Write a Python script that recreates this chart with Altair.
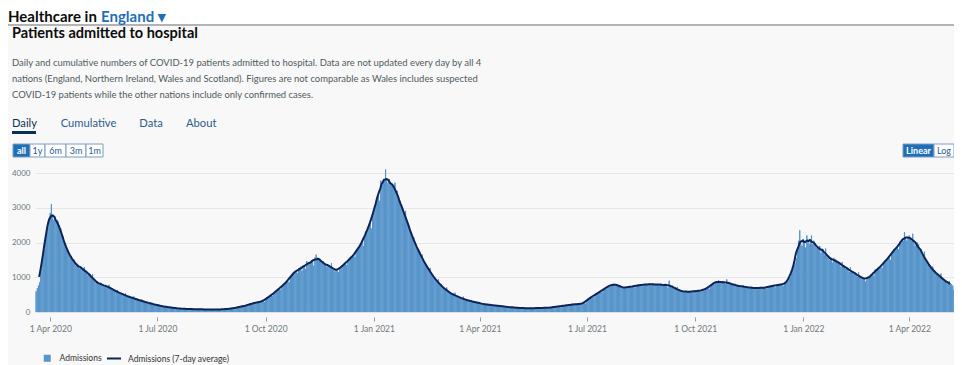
import altair as alt
import pandas as pd

START = "2020-03-19"

# Daily COVID-19 hospital admissions in England
admissions_2020 = [
    590, 680, 760, 850, 1150, 1400, 1650,
    1800, 2050, 2300, 2450, 2700, 2850, 3100,
    2800, 2650, 2750, 2600, 2650, 2600, 2500,
    2400, 2200, 2180, 2000, 1980, 1820, 1780,
    1700, 1620, 1600, 1480, 1520, 1420, 1380,
    1360, 1330, 1250, 1310, 1240, 1260, 1290,
    1180, 1150, 1050, 1120, 1080, 1010, 1090,
    940, 900, 820, 880, 850, 790, 840,
    800, 780, 720, 770, 750, 700, 780,
    700, 680, 620, 650, 640, 590, 630,
    560, 550, 510, 540, 520, 480, 535,
    460, 450, 420, 440, 420, 390, 445,
    380, 370, 340, 360, 350, 320, 358,
    300, 295, 270, 285, 280, 255, 282,
    235, 228, 210, 222, 215, 195, 221,
    175, 170, 155, 168, 160, 148, 165,
    140, 136, 124, 133, 128, 118, 131,
    108, 104, 96, 102, 98, 90, 102,
    95, 92, 84, 90, 86, 78, 91,
    86, 83, 76, 82, 78, 71, 84,
    80, 78, 72, 77, 73, 67, 78,
    77, 75, 69, 74, 70, 64, 75,
    80, 78, 72, 77, 73, 67, 78,
    96, 93, 86, 92, 88, 81, 94,
    135, 132, 122, 130, 126, 116, 142,
    185, 185, 170, 180, 178, 165, 197,
    255, 260, 240, 250, 248, 235, 276,
    310, 318, 290, 305, 300, 290, 343,
    420, 440, 430, 460, 470, 450, 529,
    600, 620, 610, 650, 660, 640, 749,
    800, 830, 820, 860, 880, 850, 1008,
    1080, 1120, 1100, 1150, 1170, 1120, 1261,
    1250, 1300, 1180, 1330, 1340, 1240, 1467,
    1380, 1420, 1400, 1450, 1480, 1330, 1564,
    1650, 1560, 1480, 1540, 1510, 1420, 1452,
    1400, 1380, 1300, 1360, 1350, 1280, 1401,
    1250, 1240, 1170, 1220, 1200, 1140, 1278,
    1300, 1340, 1330, 1380, 1400, 1350, 1490,
    1520, 1560, 1550, 1610, 1650, 1580, 1723,
    1800, 1850, 1900, 1950, 2000, 1900, 2152,
    2250, 2350, 2400, 2500, 2600, 2400, 2762,
    2900,
]

admissions_2021 = [
    3050, 3150, 3300, 3450, 3200, 3777,
    3650, 3750, 3800, 4100, 3850, 3700, 3820,
    3750, 3700, 3650, 3550, 3720, 3500, 3484,
    3300, 3200, 3100, 3000, 2950, 2850, 2908,
    2650, 2550, 2450, 2350, 2300, 2200, 2146,
    2000, 1900, 1850, 1780, 1750, 1650, 1656,
    1500, 1430, 1380, 1330, 1290, 1230, 1262,
    1100, 1050, 1000, 970, 940, 880, 941,
    800, 770, 730, 710, 690, 650, 704,
    590, 570, 540, 530, 510, 480, 553,
    460, 450, 420, 420, 410, 380, 442,
    360, 355, 335, 340, 330, 310, 343,
    300, 295, 275, 285, 275, 255, 282,
    240, 238, 222, 230, 222, 205, 232,
    210, 208, 192, 200, 195, 180, 201,
    180, 178, 165, 175, 170, 155, 174,
    150, 150, 138, 146, 142, 130, 145,
    128, 126, 116, 124, 120, 110, 123,
    116, 115, 106, 112, 110, 100, 111,
    116, 114, 106, 112, 110, 100, 112,
    124, 122, 112, 120, 116, 106, 119,
    135, 132, 122, 130, 126, 116, 135,
    168, 165, 152, 162, 158, 145, 170,
    200, 198, 182, 194, 188, 172, 203,
    232, 230, 212, 225, 220, 200, 235,
    240, 245, 235, 250, 260, 240, 315,
    380, 400, 410, 430, 440, 420, 488,
    530, 550, 560, 580, 590, 560, 641,
    680, 700, 710, 740, 750, 720, 782,
    800, 810, 790, 790, 780, 740, 778,
    730, 720, 690, 700, 700, 670, 732,
    740, 745, 720, 735, 740, 700, 758,
    790, 785, 760, 775, 780, 740, 802,
    810, 805, 780, 800, 800, 760, 824,
    810, 800, 775, 790, 800, 760, 816,
    790, 785, 760, 775, 780, 700, 898,
    760, 740, 710, 700, 690, 660, 717,
    640, 620, 595, 600, 590, 560, 595,
    600, 598, 575, 590, 585, 550, 604,
    620, 615, 595, 610, 605, 575, 643,
    650, 660, 655, 680, 690, 660, 758,
    800, 820, 830, 850, 870, 840, 919,
    860, 870, 840, 850, 860, 810, 937,
    840, 830, 800, 810, 800, 770, 813,
    770, 765, 740, 750, 745, 710, 770,
    730, 725, 700, 715, 710, 670, 727,
    700, 700, 675, 690, 685, 650, 716,
    715, 710, 685, 700, 700, 660, 730,
    750, 760, 735, 750, 745, 700, 782,
    800, 805, 780, 795, 790, 750, 831,
    820, 850, 880, 950, 1000, 1100, 1250,
    1350, 1400, 1550, 1750, 2050, 2350, 1950,
    1900, 2100,
]

admissions_2022 = [
    2050, 1850, 2200, 2050, 1950,
    2100, 2200, 1950, 2050, 1980, 1850, 1890,
    1850, 1900, 1700, 1820, 1800, 1650, 1824,
    1650, 1620, 1500, 1560, 1550, 1420, 1557,
    1520, 1500, 1400, 1450, 1420, 1300, 1434,
    1350, 1330, 1230, 1280, 1260, 1150, 1283,
    1190, 1170, 1080, 1130, 1110, 1010, 1136,
    1030, 1010, 940, 990, 970, 880, 998,
    980, 1000, 1000, 1060, 1080, 1040, 1225,
    1200, 1240, 1230, 1280, 1310, 1260, 1419,
    1450, 1500, 1490, 1540, 1580, 1500, 1706,
    1750, 1800, 1780, 1840, 1880, 1800, 1974,
    2000, 2100, 2050, 2300, 2150, 2050, 2120,
    2200, 2150, 2050, 2250, 2050, 1900, 1967,
    2000, 1950, 1800, 1800, 1700, 1600, 1736,
    1500, 1480, 1350, 1380, 1330, 1250, 1307,
    1180, 1160, 1080, 1110, 1080, 1000, 1104,
    960, 950, 880, 900, 880, 820, 889,
    820, 800, 760, 640,
]

tick_dates = ["2020-04-01", "2020-07-01", "2020-10-01", "2021-01-01", "2021-04-01",
              "2021-07-01", "2021-10-01", "2022-01-01", "2022-04-01"]
y_ticks = [0, 1000, 2000, 3000, 4000]

description = [
    "Daily and cumulative numbers of COVID-19 patients admitted to hospital. Data are not updated every day by all 4",
    "nations (England, Northern Ireland, Wales and Scotland). Figures are not comparable as Wales includes suspected",
    "COVID-19 patients while the other nations include only confirmed cases.",
]
tabs = ["Daily", "Cumulative", "Data", "About"]
range_buttons = ["all", "1y", "6m", "3m", "1m"]
scale_buttons = ["Linear", "Log"]

values = admissions_2020 + admissions_2021 + admissions_2022
dates = pd.date_range(START, periods=len(values), freq="D")
df = pd.DataFrame({"date": dates.strftime("%Y-%m-%d"), "admissions": values})
end = dates[-1] + pd.Timedelta(days=1)


def dt(ts):
    ts = pd.Timestamp(ts)
    return alt.DateTime(year=ts.year, month=ts.month, date=ts.day, utc=True)


FONT = "Lato"
BAR = "#5694ca"
NAVY = "#0e2457"
W, H = 919, 139

xscale = alt.Scale(type="utc", domain=[dt(START), dt(end)])
xaxis = alt.Axis(values=[dt(d) for d in tick_dates], format="%-d %b %Y", grid=False,
                 domain=False, ticks=True, tickSize=4, tickColor="#9a9a9a", offset=5,
                 labelPadding=3, labelFontSize=8.5, labelColor="#6f777b", labelFont=FONT,
                 labelFlush=False, labelOverlap=False, title=None)
yscale = alt.Scale(domain=[0, 4000], nice=False)
yaxis = alt.Axis(values=y_ticks, tickCount=5, format="d", grid=True, gridColor="#e6e6e6",
                 domain=False, ticks=False, tickSize=0, labelPadding=5, labelFontSize=8,
                 labelColor="#6f777b", labelFont=FONT, labelOverlap=False,
                 labelFlush=False, title=None)

base = alt.Chart(df)

bars = base.transform_calculate(series='"Admissions"').mark_bar(
    stroke=BAR, strokeWidth=1, opacity=1
).encode(
    x=alt.X("utcyearmonthdate(date):T", scale=xscale, axis=xaxis),
    y=alt.Y("admissions:Q", scale=yscale, axis=yaxis),
    color=alt.Color("series:N", scale=alt.Scale(domain=["Admissions"], range=[BAR]),
                    legend=alt.Legend(orient="none", legendX=8, legendY=181, title=None,
                                      symbolType="square", symbolSize=49,
                                      symbolStrokeWidth=0, symbolOpacity=1,
                                      labelFontSize=8.5, labelFont=FONT,
                                      labelColor="#333333", labelOffset=8, padding=0)),
)

line = base.transform_window(
    window=[alt.WindowFieldDef(op="mean", field="admissions", **{"as": "avg"}),
            alt.WindowFieldDef(op="count", **{"as": "n"})],
    frame=[-3, 3],
    sort=[alt.SortField("date")],
).transform_filter("datum.n == 7").transform_calculate(
    series2='"Admissions (7-day average)"'
).mark_line(strokeWidth=2).encode(
    x=alt.X("utcyearmonthdate(date):T", bandPosition=0.5, scale=xscale, axis=xaxis),
    y=alt.Y("avg:Q", scale=yscale, axis=yaxis),
    stroke=alt.Stroke("series2:N",
                      scale=alt.Scale(domain=["Admissions (7-day average)"], range=[NAVY]),
                      legend=alt.Legend(orient="none", legendX=71, legendY=177.5, title=None,
                                        symbolType="stroke", symbolSize=196,
                                        symbolStrokeWidth=2, labelFontSize=8.5,
                                        labelFont=FONT, labelColor="#333333",
                                        labelOffset=6, padding=0)),
)

dummy = pd.DataFrame({"k": [0]})


def deco_text(s, x, y, size, color, weight="normal", align="left", baseline="alphabetic"):
    return alt.Chart(dummy).mark_text(
        text=s, fontSize=size, color=color, fontWeight=weight, align=align,
        baseline=baseline, font=FONT
    ).encode(x=alt.value(x), y=alt.value(y))


def deco_rect(x, x2, y, y2, fill, stroke=None):
    kw = {"fill": fill}
    if stroke:
        kw.update(stroke=stroke, strokeWidth=1)
    return alt.Chart(dummy).mark_rect(**kw).encode(
        x=alt.value(x), x2=alt.value(x2), y=alt.value(y), y2=alt.value(y2))


layers = []
# header band
layers.append(deco_rect(-27, W, -165, -148, "#ffffff"))
layers.append(alt.Chart(dummy).mark_rule(color="#b1b4b6", strokeWidth=2).encode(
    x=alt.value(-27), x2=alt.value(W), y=alt.value(-148)))
layers.append(bars)
layers.append(line)

layers.append(deco_text("Healthcare in", -27, -151.5, 15, "#0b0c0c", "bold"))
layers.append(deco_text("England \u25be", 66, -151.5, 15, "#1d70b8", "bold"))
layers.append(deco_text("Patients admitted to hospital", -23, -134.7, 14.5, "#0b0c0c", "bold"))
for i, s in enumerate(description):
    layers.append(deco_text(s, -23, [-107, -91.2, -75.4][i], 9.45, "#505a5f"))

tab_x = [-23, 25.7, 104.3, 151]
for i, s in enumerate(tabs):
    layers.append(deco_text(s, tab_x[i], -46.3, 11.2, "#0b2f5b" if i == 0 else "#2a5d8f"))
layers.append(deco_rect(-23, 1, -42, -39, "#0b2f5b"))

rb_edges = [-22, -5, 10, 31, 51, 68]
for i, s in enumerate(range_buttons):
    x0, x1 = rb_edges[i], rb_edges[i + 1]
    on = i == 0
    layers.append(deco_rect(x0, x1, -29, -16, "#1d70b8" if on else "#ffffff", "#7d9cbc"))
    layers.append(deco_text(s, (x0 + x1) / 2, -22.3, 9, "#ffffff" if on else "#1d5b96",
                            "bold" if on else "normal", "center", "middle"))

sb_edges = [868, 899, 919]
for i, s in enumerate(scale_buttons):
    x0, x1 = sb_edges[i], sb_edges[i + 1]
    on = i == 0
    layers.append(deco_rect(x0, x1, -29, -16, "#1d70b8" if on else "#ffffff", "#7d9cbc"))
    layers.append(deco_text(s, (x0 + x1) / 2, -22.3, 9, "#ffffff" if on else "#1d5b96",
                            "bold" if on else "normal", "center", "middle"))

chart = alt.layer(*layers).properties(
    width=W, height=H,
    padding={"left": 27, "top": 165, "right": 0, "bottom": 53},
    autosize=alt.AutoSizeParams(type="none"),
    background="#f8f8f8",
).configure(font=FONT).configure_view(stroke=None)

chart.save("out.html", embed_options={"renderer": "svg", "actions": False})
